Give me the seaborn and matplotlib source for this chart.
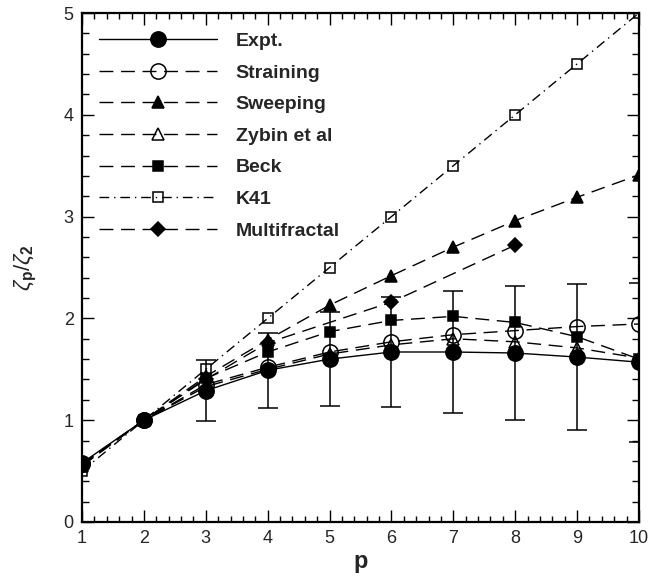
import numpy as np
import pandas as pd
import matplotlib
matplotlib.use("Agg")
import matplotlib.pyplot as plt
import seaborn as sns

# ---------------- data ----------------
p = [1, 2, 3, 4, 5, 6, 7, 8, 9, 10]
expt = [0.58, 1.00, 1.29, 1.49, 1.60, 1.67, 1.67, 1.66, 1.62, 1.57]
expt_err = [0.0, 0.0, 0.30, 0.37, 0.46, 0.54, 0.60, 0.66, 0.72, 0.78]
straining = [0.57, 1.00, 1.35, 1.52, 1.67, 1.77, 1.84, 1.88, 1.92, 1.945]
sweeping = [0.55, 1.00, 1.43, 1.79, 2.13, 2.42, 2.70, 2.96, 3.19, 3.41]
zybin = [0.56, 1.00, 1.33, 1.50, 1.65, 1.74, 1.80, 1.77, 1.71, 1.61]
beck = [0.56, 1.00, 1.41, 1.67, 1.87, 1.98, 2.02, 1.96, 1.82, 1.60]
k41 = [0.5, 1.0, 1.5, 2.0, 2.5, 3.0, 3.5, 4.0, 4.5, 5.0]
p_mf = [1, 2, 3, 4, 6, 8]
multifractal = [0.57, 1.00, 1.40, 1.76, 2.16, 2.72]

sns.set_style("ticks")
plt.rcParams["font.family"] = ["Liberation Sans", "DejaVu Sans"]
plt.rcParams["mathtext.fontset"] = "custom"
plt.rcParams["mathtext.rm"] = "Liberation Sans"
plt.rcParams["mathtext.it"] = "Liberation Sans:italic"
plt.rcParams["mathtext.bf"] = "Liberation Sans:bold"

fig = plt.figure(figsize=(6.66, 5.82), dpi=100)
ax = fig.add_axes([82 / 666, 1 - 522 / 582, 557 / 666, 509 / 582])

dash = (0, (10, 5.5))
dashdot = (0, (7, 3.5, 1, 3.5))

series = [
    # label, x, y, linestyle, marker, size, filled
    ("Expt.", p, expt, "-", "o", 11, True),
    ("Straining", p, straining, dash, "o", 11, False),
    ("Sweeping", p, sweeping, dash, "^", 8, True),
    ("Zybin et al", p, zybin, dash, "^", 9, False),
    ("Beck", p, beck, dash, "s", 7.5, True),
    ("K41", p, k41, dashdot, "s", 7.5, False),
    ("Multifractal", p_mf, multifractal, dash, "D", 7.5, True),
]

# draw back to front so the experiment ends on top
for label, xs, ys, ls, mk, ms, filled in series[::-1]:
    df = pd.DataFrame({"p": xs, "z": ys})
    sns.lineplot(data=df, x="p", y="z", ax=ax, color="black", linewidth=1,
                 linestyle=ls, marker=mk, markersize=ms,
                 markerfacecolor="black" if filled else "none",
                 markeredgecolor="black", markeredgewidth=1.1,
                 label=label, legend=False)

# error bars on the experiment
ax.errorbar(p[2:], expt[2:], yerr=expt_err[2:], fmt="none", ecolor="black",
            elinewidth=1.1, capsize=7, capthick=1.1, zorder=5)

ax.legend(handles=ax.get_lines()[:len(series)][::-1],
          labels=[s[0] for s in series],
          loc="upper left", frameon=False, handlelength=6.1, numpoints=1,
          prop={"weight": "bold", "size": 14}, labelspacing=0.72,
          borderaxespad=0.2, handletextpad=0.95, bbox_to_anchor=(0.009, 0.985))

ax.set_xlim(1, 10)
ax.set_ylim(0, 5)
ax.set_xticks(range(1, 11))
ax.set_yticks(range(0, 6))
ax.set_xticks(np.arange(1, 10.01, 0.2), minor=True)
ax.set_yticks(np.arange(0, 5.01, 0.2), minor=True)
ax.tick_params(which="both", direction="in", top=True, right=True,
               labelsize=13, width=1, color="black")
ax.tick_params(which="major", length=8.5, pad=6)
ax.tick_params(axis="x", which="minor", length=4)
ax.tick_params(axis="y", which="minor", length=5)
for sp in ax.spines.values():
    sp.set_linewidth(1.6)
    sp.set_color("black")

ax.set_xlabel("p", fontsize=17, fontweight="bold", labelpad=2)
ax.set_ylabel(r"$\zeta_{\mathbf{p}}/\zeta_{\mathbf{2}}$", fontsize=16, labelpad=18)

fig.savefig("out.png", dpi=100)
